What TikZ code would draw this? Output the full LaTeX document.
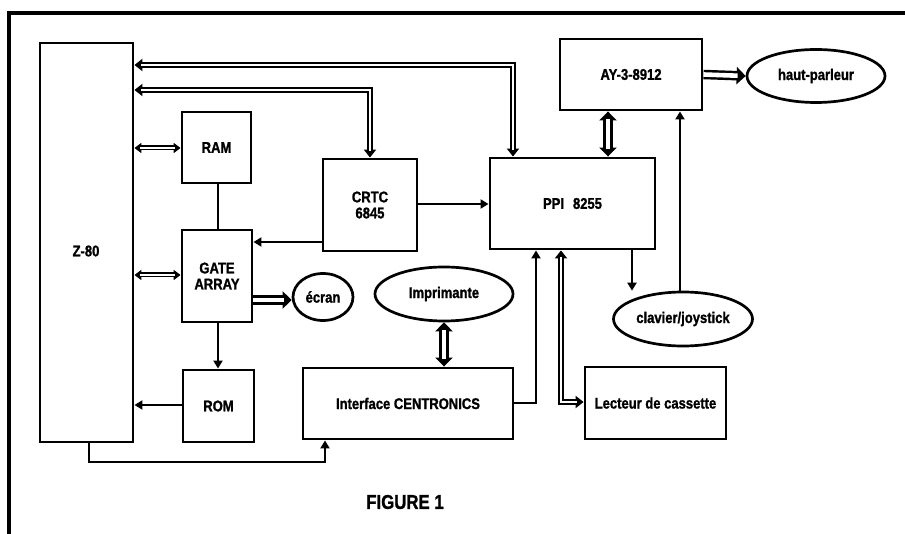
\documentclass[tikz,border=0pt]{standalone}
\usepackage{fontspec}
\setmainfont{Liberation Sans}[FakeStretch=0.84, BoldFeatures={FakeBold=1.2}]
\usetikzlibrary{arrows.meta,shapes.geometric}
\begin{document}
\begin{tikzpicture}[x=1pt,y=-1pt,
  lbl/.style={font=\fontsize{15.5}{17}\selectfont\bfseries},
  box/.style={draw, line width=2.9pt, rectangle, inner sep=0pt, align=center, lbl},
  oval/.style={draw, line width=2.7pt, ellipse, inner sep=0pt, lbl},
  wire/.style={line width=2.7pt},
  tipe/.style={-{Triangle[length=8pt,width=9pt]}},
  busthin/.style={line width=5.6pt, line join=miter},
  busmid/.style={line width=5pt, line join=miter},
  busthick/.style={line width=9.5pt, line join=miter},
  tipbus/.style={{Triangle[length=8pt,width=12pt]}-{Triangle[length=8pt,width=12pt]}},
  tipsmall/.style={{Triangle[length=7pt,width=10pt]}-{Triangle[length=7pt,width=10pt]}},
  tipwide/.style={{Triangle[length=9pt,width=17pt]}-{Triangle[length=9pt,width=17pt]}},
  tipwideone/.style={-{Triangle[length=9pt,width=17pt]}},
  inthin/.style={postaction={draw=white, line width=2.2pt, -, shorten <=#1, shorten >=7pt}},
  inmid/.style={postaction={draw=white, line width=1.4pt, -, shorten <=#1, shorten >=6pt}},
  inthick/.style={postaction={draw=white, line width=4.6pt, -, shorten <=#1, shorten >=8pt}}]
\useasboundingbox (0,0) rectangle (905,534);
% frame
\draw[line width=4.5pt] (9,534) -- (9,13) -- (905,13);
% boxes
\node[box, minimum width=93pt, minimum height=399pt] (z80) at (86.5,242.5) {};
\node[lbl] (z80t) at (86,251) {Z-80};
\node[box, minimum width=69pt, minimum height=71pt] (ram) at (216.5,147.5) {RAM};
\node[box, minimum width=94pt, minimum height=92pt] (crtc) at (370,205) {CRTC\\[-1pt]6845};
\node[box, minimum width=70pt, minimum height=92pt] (gate) at (217,276) {GATE\\[-1pt]ARRAY};
\node[box, minimum width=71pt, minimum height=72pt] (rom) at (218.5,406) {ROM};
\node[box, minimum width=210pt, minimum height=71pt] (cent) at (408,403.5) {Interface CENTRONICS};
\node[box, minimum width=165pt, minimum height=91pt] (ppi) at (572.5,203.5) {PPI\hspace{9pt}8255};
\node[box, minimum width=142pt, minimum height=71pt] (ay) at (631,74.5) {AY-3-8912};
\node[box, minimum width=141pt, minimum height=72pt] (cass) at (655.5,403) {Lecteur de cassette};
% ovals
\node[oval, minimum width=60pt, minimum height=47pt] (ecran) at (323,297) {écran};
\node[oval, minimum width=138pt, minimum height=54pt] (impr) at (444,294) {Imprimante};
\node[oval, minimum width=138pt, minimum height=53pt] (hp) at (816,76) {haut-parleur};
\node[oval, minimum width=139pt, minimum height=54pt] (clav) at (683,319) {clavier/joystick};
% caption
\node[font=\fontsize{20}{22}\selectfont\bfseries] (fig) at (405,502) {FIGURE 1};
% buses
\draw[busthin, tipbus, inthin=7pt] (z80.east |- 0,65) -| (ppi.north -| 513,0);
\draw[busthin, tipbus, inthin=7pt] (z80.east |- 0,90) -| (crtc.north);
\draw[busmid, tipsmall, inmid=6pt] (z80.east |- 0,148) -- (ram.west |- 0,148);
\draw[busmid, tipsmall, inmid=6pt] (z80.east |- 0,275) -- (gate.west |- 0,275);
\draw[busthick, tipwideone, inthick=0pt] (gate.east |- 0,300) -- (ecran.west |- 0,300);
\draw[busthick, tipwide, inthick=8pt] (impr.south) -- (cent.north -| impr.south);
\draw[busthin, tipbus, inthin=7pt] (ppi.south -| 561,0) |- (cass.west |- 0,402);
\draw[busthick, tipwideone, inthick=0pt] (ay.east) -- (hp.west);
\draw[busthick, tipwide, inthick=8pt] (ay.south -| 608,0) -- (ppi.north -| 608,0);
% single wires
\draw[wire] (ram.south -| 218,0) -- (gate.north -| 218,0);
\draw[wire, tipe] (crtc.west |- 0,242) -- (gate.east |- 0,242);
\draw[wire, tipe] (crtc.east |- 0,204) -- (ppi.west |- 0,204);
\draw[wire, tipe] (gate.south -| 218,0) -- (rom.north -| 218,0);
\draw[wire, tipe] (rom.west |- 0,405) -- (z80.east |- 0,405);
\draw[wire, tipe] (z80.south -| 89,0) -- (89,462) -| (cent.south -| 325,0);
\draw[wire, tipe] (cent.east |- 0,403) -| (ppi.south -| 536,0);
\draw[wire, tipe] (ppi.south -| 632,0) -- (clav.north -| 632,0);
\draw[wire, tipe] (clav.north -| 680,0) -- (ay.south -| 680,0);
\end{tikzpicture}
\end{document}
